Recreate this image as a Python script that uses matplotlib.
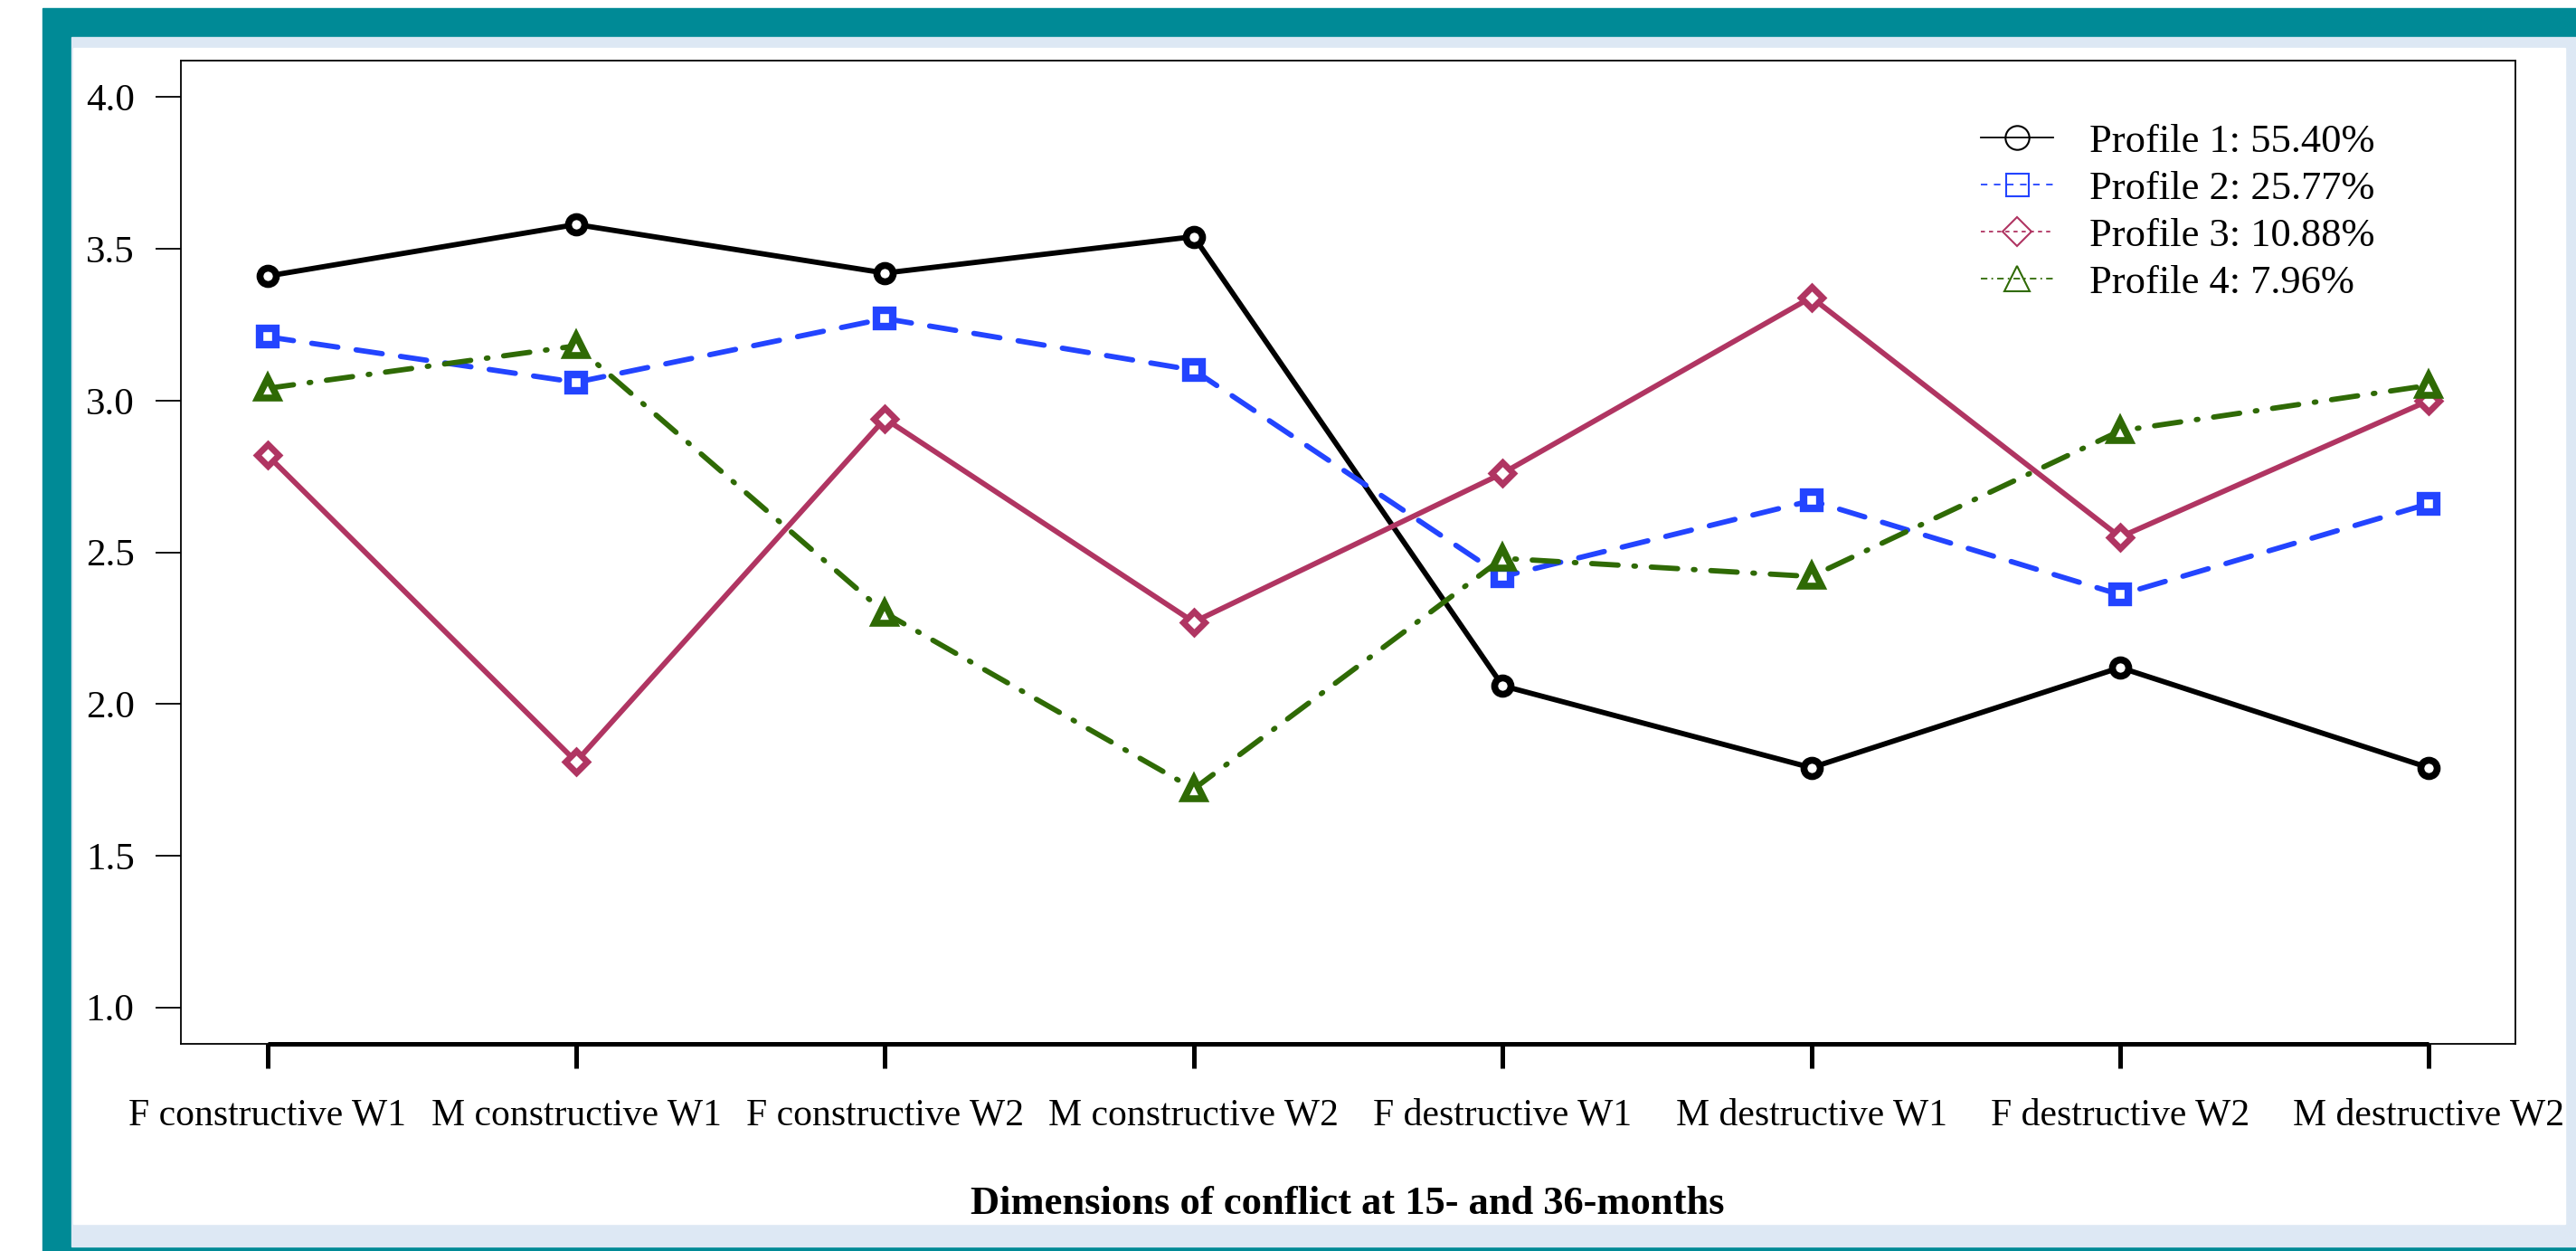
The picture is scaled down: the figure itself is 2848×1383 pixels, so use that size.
import matplotlib.pyplot as plt
from matplotlib.patches import Rectangle
from matplotlib.lines import Line2D
import matplotlib.transforms as mtransforms
import numpy as np

plt.rcParams['font.family'] = ['Liberation Serif', 'DejaVu Serif']

categories = ['F constructive W1', 'M constructive W1', 'F constructive W2', 'M constructive W2',
              'F destructive W1', 'M destructive W1', 'F destructive W2', 'M destructive W2']
profile1 = [3.41, 3.58, 3.42, 3.54, 2.06, 1.79, 2.12, 1.79]
profile2 = [3.21, 3.06, 3.27, 3.10, 2.42, 2.67, 2.36, 2.66]
profile3 = [2.82, 1.81, 2.94, 2.27, 2.76, 3.34, 2.55, 3.00]
profile4 = [3.04, 3.18, 2.30, 1.72, 2.48, 2.42, 2.90, 3.05]
labels = ['Profile 1: 55.40%', 'Profile 2: 25.77%', 'Profile 3: 10.88%', 'Profile 4: 7.96%']
yticks = [1.0, 1.5, 2.0, 2.5, 3.0, 3.5, 4.0]

W, H = 2848, 1383
fig = plt.figure(figsize=(W/100, H/100), dpi=100)
fig.patch.set_facecolor('white')

def frect(x0, y0, x1, y1, color):
    # pixel box (top-left origin) -> figure fraction
    fig.patches.append(Rectangle((x0/W, 1-y1/H), (x1-x0)/W, (y1-y0)/H,
                                 transform=fig.transFigure, color=color, zorder=-10))

frect(47, 9, W, H, '#008a96')
frect(79, 41, W, 1378, '#dde8f4')
frect(81, 53, 2836, 1353, 'white')

ax = fig.add_axes([200/W, 1-1154/H, (2781-200)/W, (1154-67)/H])
ax.set_facecolor('white')

x = np.arange(1, len(categories)+1)
blue = '#2344ff'
maroon = '#b03562'
green = '#2f6a05'
lw = 4.2
ax.plot(x, profile1, color='black', lw=lw, marker='o', ms=13, mew=5.5, mfc='white',
        solid_capstyle='round', zorder=3)
ax.plot(x, profile2, color=blue, lw=lw, ls=(0, (5, 3.5)), dash_capstyle='round',
        marker='s', ms=13, mew=6, mfc='white', zorder=3)
ax.plot(x, profile3, color=maroon, lw=lw, marker='D', ms=12, mew=5, mfc='white', zorder=3)
ax.plot(x, profile4, color=green, lw=lw, ls=(0, (5, 3, 0.3, 3)), dash_capstyle='round',
        marker='^', ms=16, mew=5.5, mfc='white', zorder=3)

ax.set_xlim(0.72, 8.28)
ax.set_ylim(0.88, 4.12)

for s in ax.spines.values():
    s.set_linewidth(1.3)

ax.set_yticks(yticks)
ax.set_yticklabels(['%.1f' % v for v in yticks], fontsize=31)
ax.tick_params(axis='y', length=20, width=1.3, pad=17)

ax.set_xticks(x)
ax.set_xticklabels(categories, fontsize=30)
ax.tick_params(axis='x', length=19.5, width=3.6, pad=24)
trans = mtransforms.blended_transform_factory(ax.transData, ax.transAxes)
ax.plot([x[0], x[-1]], [0, 0], color='black', lw=3.6, transform=trans, clip_on=False,
        solid_capstyle='butt', zorder=5)

fig.text(1490/W, 1-1331/H, 'Dimensions of conflict at 15- and 36-months', fontsize=32,
         fontweight='bold', ha='center', va='center')

handles = [
    Line2D([], [], color='black', lw=1.3, marker='o', ms=19, mew=1.5, mfc='none'),
    Line2D([], [], color=blue, lw=1.3, ls=(0, (4, 4)), marker='s', ms=18, mew=1.5, mfc='none'),
    Line2D([], [], color=maroon, lw=1.3, ls=(0, (2.5, 2.5)), marker='D', ms=16, mew=1.5, mfc='none'),
    Line2D([], [], color=green, lw=1.3, ls=(0, (4, 2.5, 1, 2.5)), marker='^', ms=20, mew=1.5, mfc='none'),
]
ax.legend(handles, labels, loc='upper left', bbox_to_anchor=(0.771, 0.936), frameon=False,
          fontsize=32, handlelength=1.8, handletextpad=0.9, labelspacing=0.27,
          borderpad=0, borderaxespad=0)

fig.savefig('out.png', dpi=100)
